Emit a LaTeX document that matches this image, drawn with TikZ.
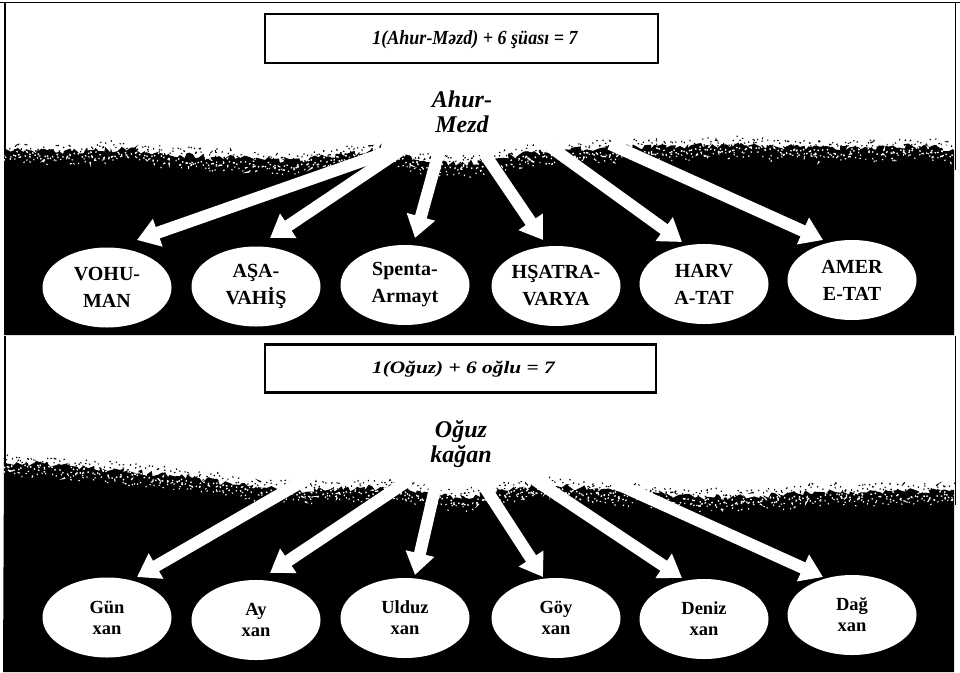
\documentclass[tikz,border=0pt]{standalone}
\usepackage{fontspec}
\setmainfont{Liberation Serif}
\usepackage{graphicx}
\usetikzlibrary{shapes.geometric,decorations.pathmorphing,arrows.meta}

\newcommand\labfont{\fontsize{20}{27}\selectfont\bfseries}
\newcommand\labfontb{\fontsize{18.5}{21}\selectfont\bfseries}
\newcommand\godfont{\fontsize{24}{25.5}\selectfont\bfseries\itshape}
\newcommand\eqfont{\fontsize{20}{24}\selectfont\bfseries\itshape}

\def\topB{(4,150) -- (60,152) -- (120,149) -- (180,155) -- (240,158) -- (300,161) -- (340,154) -- (380,151) -- (405,157) -- (430,162) -- (460,164) -- (490,160) -- (520,154) -- (570,150) -- (620,147) -- (680,146) -- (740,145) -- (800,147) -- (860,148) -- (920,146) -- (954,150)}
\def\botB{(4,462) -- (60,465) -- (120,470) -- (180,476) -- (240,485) -- (300,490) -- (360,488) -- (400,487) -- (430,495) -- (465,497) -- (500,490) -- (540,485) -- (580,488) -- (640,493) -- (700,497) -- (760,496) -- (820,492) -- (880,492) -- (954,490)}

\tikzset{
  jagdec/.style={decoration={random steps, segment length=3pt, amplitude=3pt}},
  speck/.style={line width=1.5pt, dash pattern=on 1.3pt off 3.7pt, decorate,
    decoration={random steps, segment length=2.5pt, amplitude=5pt}},
  oval/.style={ellipse, fill=white, minimum width=129pt, minimum height=80pt,
    inner sep=0pt, align=center},
  ovtop/.style={oval, font=\labfont},
  ovbot/.style={oval, font=\labfontb},
  eqbox/.style={draw, line width=1.2pt, minimum width=393pt, minimum height=48pt, inner sep=0pt},
  boxedge/.style={line width=2.2pt},
  ray/.style={white, line width=12pt, -{Triangle[length=22pt,width=28pt]}},
  god/.style={font=\godfont, align=center, inner sep=0pt},
  eqtext/.style={font=\eqfont, inner sep=0pt},
  frameline/.style={line width=1.6pt}
}

\begin{document}
\begin{tikzpicture}[x=1pt,y=-1pt]
\useasboundingbox (0,0) rectangle (960,672);
\fill[white] (0,0) rectangle (960,672);
\pgfmathsetseed{7}

% frame lines
\draw[frameline] (0,2.5) -- (960,2.5);
\draw[frameline] (4.8,2) -- (4.8,170);
\draw[line width=1.2pt] (955.5,2) -- (955.5,170);
\draw[frameline] (5,336) -- (5,480);
\draw[line width=1.2pt] (955.5,336) -- (955.5,505);

% dark grounds with ragged edges
\fill[black] decorate[jagdec]{\topB} -- (954,335) -- (4,335) -- cycle;
\fill[black] decorate[jagdec]{\botB} -- (954,672) -- (3,672) -- cycle;

% speckles along the edges
\draw[white, speck, yshift=-5pt] \topB;
\draw[white, speck, yshift=-10pt, dash pattern=on 1pt off 6pt] \topB;
\draw[black, speck, yshift=4pt, dash pattern=on 1pt off 5pt] \topB;
\draw[white, speck, yshift=-5pt] \botB;
\draw[white, speck, yshift=-10pt, dash pattern=on 1pt off 6pt] \botB;
\draw[black, speck, yshift=4pt, dash pattern=on 1pt off 5pt] \botB;

% ---------- upper panel ----------
\node[eqbox] (box1) at (461.5,38.5) {};
\draw[boxedge] (box1.north west) -- (box1.north east);
\draw[boxedge] (box1.south west) -- (box1.south east);
\node[eqtext] (eq1) at (475,40) {\scalebox{0.9}[1]{1(Ahur-Məzd) + 6 şüası = 7}};
\node[god] (ahur) at (462,112) {Ahur-\\Mezd};

\coordinate (s1) at (408,145); \coordinate (t1) at (137,240);
\coordinate (s2) at (410,144); \coordinate (t2) at (270,238);
\coordinate (s3) at (440,148); \coordinate (t3) at (415,238);
\coordinate (s4) at (484,153); \coordinate (t4) at (543,240);
\coordinate (s5) at (545,143); \coordinate (t5) at (682,242);
\coordinate (s6) at (610,144); \coordinate (t6) at (823,240);
\foreach \i in {1,...,6} \draw[ray] (s\i) -- (t\i);

\node[ovtop] (a1) at (107,287.5) {VOHU-\\MAN};
\node[ovtop] (a2) at (256,286.5) {AŞA-\\VAHİŞ};
\node[ovtop] (a3) at (405,285) {Spenta-\\Armayt};
\node[ovtop] (a4) at (556,286) {HŞATRA-\\VARYA};
\node[ovtop] (a5) at (704,284) {HARV\\A-TAT};
\node[ovtop] (a6) at (852,280) {AMER\\E-TAT};

% ---------- lower panel ----------
\node[eqbox, minimum width=391pt, minimum height=47pt] (box2) at (460.5,368.5) {};
\draw[boxedge] (box2.north west) -- (box2.north east);
\draw[boxedge] (box2.south west) -- (box2.south east);
\node[eqtext, font=\fontsize{17.5}{21}\selectfont\bfseries\itshape] (eq2) at (463.5,369)
  {\scalebox{1.22}[1]{1(Oğuz) + 6 oğlu = 7}};
\node[god] (oguz) at (461,444) {Oğuz\\kağan};

\coordinate (u1) at (305,480); \coordinate (v1) at (137,577);
\coordinate (u2) at (409,480); \coordinate (v2) at (270,573);
\coordinate (u3) at (436,484); \coordinate (v3) at (415,575);
\coordinate (u4) at (484,486); \coordinate (v4) at (543,577);
\coordinate (u5) at (535,480); \coordinate (v5) at (682,578);
\coordinate (u6) at (613,482); \coordinate (v6) at (823,577);
\foreach \i in {1,...,6} \draw[ray] (u\i) -- (v\i);

\node[ovbot] (b1) at (107,617.5) {Gün\\xan};
\node[ovbot] (b2) at (256,620) {Ay\\xan};
\node[ovbot] (b3) at (405,618) {Ulduz\\xan};
\node[ovbot] (b4) at (556,618) {Göy\\xan};
\node[ovbot] (b5) at (704,619) {Deniz\\xan};
\node[ovbot] (b6) at (852,615) {Dağ\\xan};
\end{tikzpicture}
\end{document}
